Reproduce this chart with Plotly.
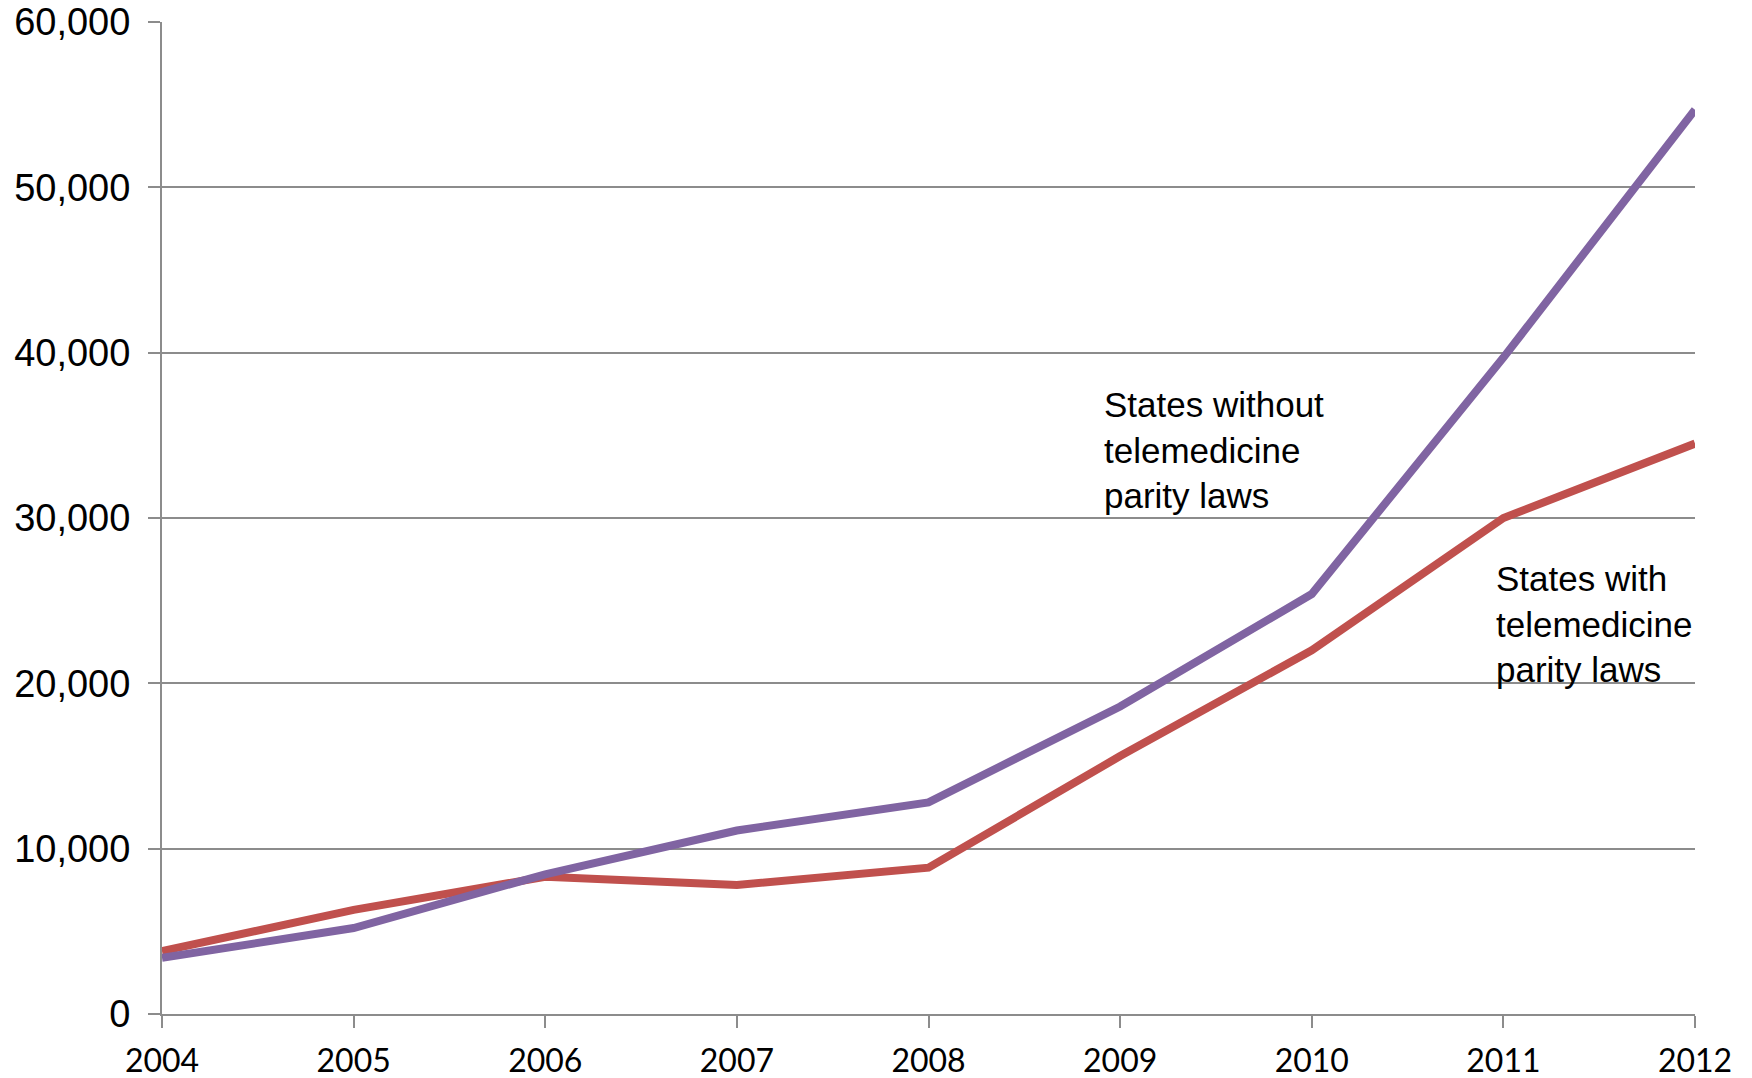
import plotly.graph_objects as go

years = ["2004", "2005", "2006", "2007", "2008", "2009", "2010", "2011", "2012"]
without_parity = [3400, 5200, 8450, 11100, 12800, 18600, 25400, 39700, 54700]
with_parity = [3800, 6300, 8300, 7800, 8850, 15600, 22000, 30000, 34500]
y_ticks = [0, 10000, 20000, 30000, 40000, 50000, 60000]
y_tick_labels = ["0", "10,000", "20,000", "30,000", "40,000", "50,000", "60,000"]

fig = go.Figure()
fig.add_trace(go.Scatter(x=years, y=with_parity, mode="lines",
                         line=dict(color="#C0504D", width=8), name="States with telemedicine parity laws"))
fig.add_trace(go.Scatter(x=years, y=without_parity, mode="lines",
                         line=dict(color="#8064A2", width=8), name="States without telemedicine parity laws"))

ann_font = dict(family="Liberation Sans, Arial", size=35, color="black")
fig.add_annotation(x=0.613, y=0.569, xref="paper", yref="paper", xanchor="left", yanchor="middle",
                   text="States without<br>telemedicine<br>parity laws", showarrow=False,
                   align="left", font=ann_font)
fig.add_annotation(x=0.869, y=0.393, xref="paper", yref="paper", xanchor="left", yanchor="middle",
                   text="States with<br>telemedicine<br>parity laws", showarrow=False,
                   align="left", font=ann_font)

fig.update_layout(
    width=1752, height=1078,
    margin=dict(l=162, r=57, t=22, b=64, autoexpand=False),
    paper_bgcolor="white", plot_bgcolor="white",
    showlegend=False,
    xaxis=dict(
        type="category", range=[0, 8], automargin=False,
        showgrid=False, showline=True, linecolor="#8c8c8c", linewidth=2,
        ticks="outside", ticklen=12, tickwidth=2, tickcolor="#8c8c8c",
        tickfont=dict(family="Lato, Carlito, Open Sans", size=32, color="black"),
        ticklabelstandoff=6,
    ),
    yaxis=dict(
        range=[0, 60000], tickvals=y_ticks, ticktext=y_tick_labels, automargin=False,
        showgrid=True, gridcolor="#8c8c8c", gridwidth=1.5,
        showline=True, linecolor="#8c8c8c", linewidth=2,
        ticks="outside", ticklen=12, tickwidth=2, tickcolor="#8c8c8c",
        tickfont=dict(family="Liberation Sans, Arial", size=38, color="black"),
        ticklabelstandoff=10,
        zeroline=False,
    ),
)

fig.write_html("out.html")
